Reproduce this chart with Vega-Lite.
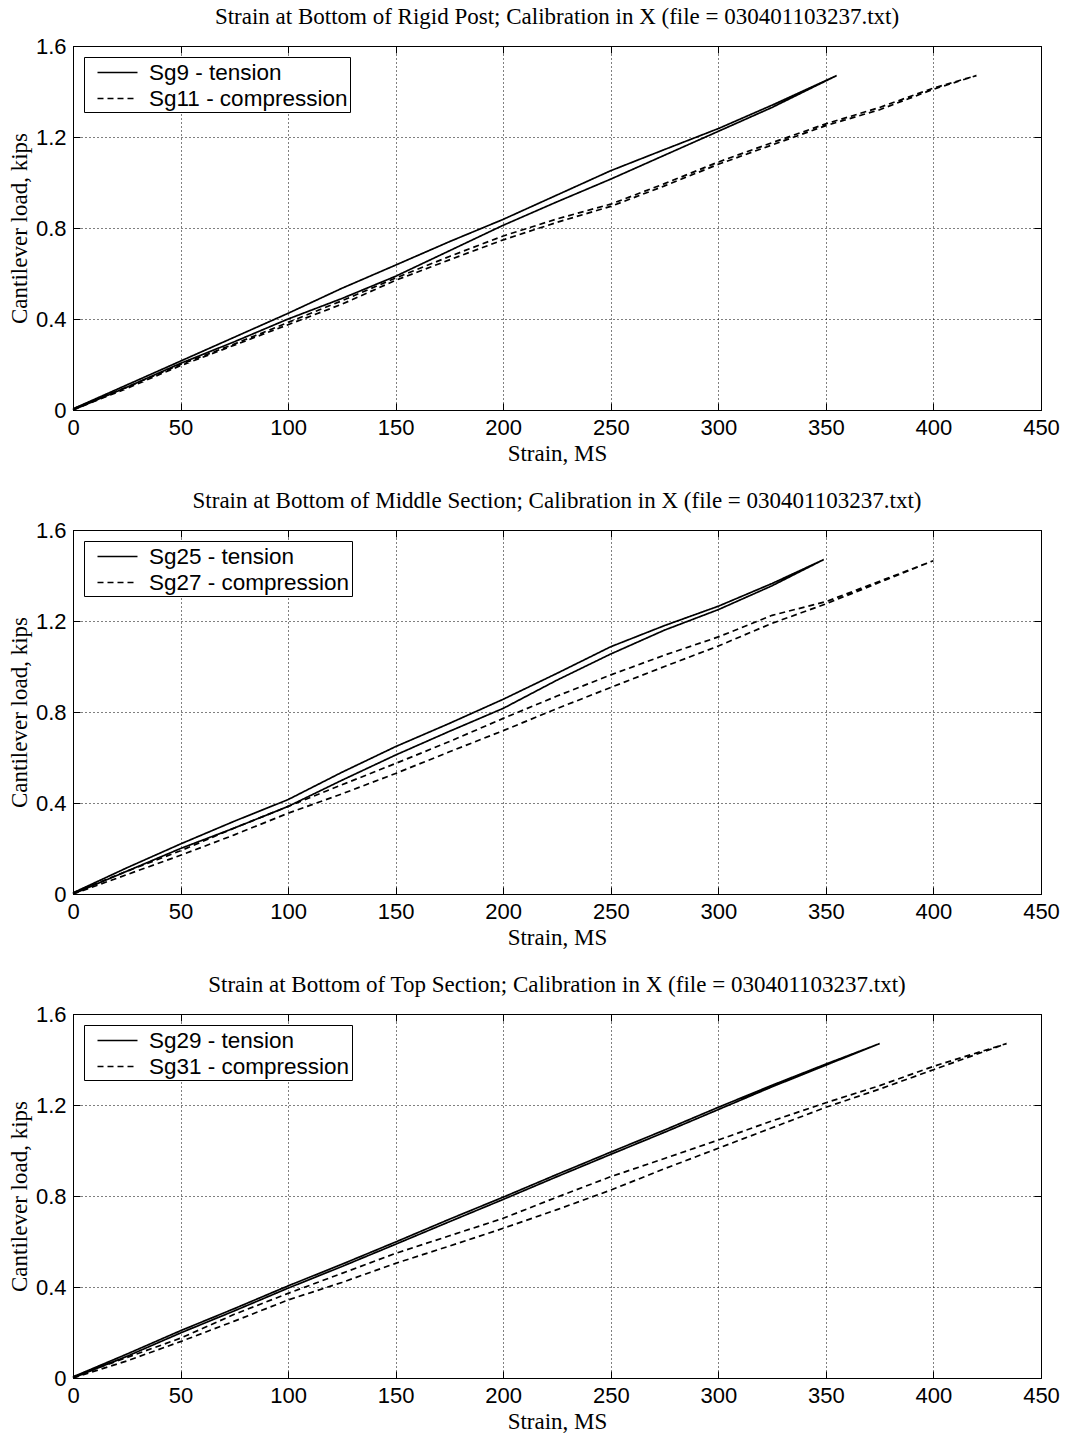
{
"$schema": "https://vega.github.io/schema/vega-lite/v6.json",
"background": "white",
"padding": {"left": 7, "top": 5, "right": 5, "bottom": 2},
"config": {
 "view": {"stroke": "black", "strokeWidth": 1},
 "axis": {"labelFont": "Liberation Sans", "labelFontSize": 22, "labelColor": "black", "labelFlush": false, "titleFont": "Liberation Serif", "titleFontSize": 23, "titleFontWeight": "normal", "titleColor": "black", "domainColor": "black", "tickColor": "black", "tickSize": -7, "labelPadding": 14, "titlePadding": 4, "gridColor": "black", "gridDash": [1, 3], "gridOpacity": 1, "gridWidth": 1},
 "legend": {"labelFont": "Liberation Sans", "labelFontSize": 22.5, "labelColor": "black", "labelLimit": 500, "strokeColor": "black", "fillColor": "white", "padding": 2, "rowPadding": 1, "symbolOffset": 18, "symbolStrokeColor": "black", "symbolStrokeWidth": 1.5, "symbolSize": 625, "symbolType": "M-1.6,0H1.6", "labelOffset": 18, "orient": "top-left", "offset": 11, "title": null},
 "title": {"font": "Liberation Serif", "fontSize": 23, "fontWeight": "normal", "color": "black", "anchor": "middle", "frame": "group", "offset": 6}
},
"datasets": {"d": [
{"p":1,"s":"Sg9 - tension","i":0,"x":0,"y":0},
{"p":1,"s":"Sg9 - tension","i":1,"x":25,"y":0.1},
{"p":1,"s":"Sg9 - tension","i":2,"x":50,"y":0.205},
{"p":1,"s":"Sg9 - tension","i":3,"x":75,"y":0.3},
{"p":1,"s":"Sg9 - tension","i":4,"x":100,"y":0.4},
{"p":1,"s":"Sg9 - tension","i":5,"x":125,"y":0.49},
{"p":1,"s":"Sg9 - tension","i":6,"x":150,"y":0.588},
{"p":1,"s":"Sg9 - tension","i":7,"x":175,"y":0.7},
{"p":1,"s":"Sg9 - tension","i":8,"x":200,"y":0.812},
{"p":1,"s":"Sg9 - tension","i":9,"x":225,"y":0.915},
{"p":1,"s":"Sg9 - tension","i":10,"x":250,"y":1.015},
{"p":1,"s":"Sg9 - tension","i":11,"x":275,"y":1.12},
{"p":1,"s":"Sg9 - tension","i":12,"x":300,"y":1.225},
{"p":1,"s":"Sg9 - tension","i":13,"x":325,"y":1.33},
{"p":1,"s":"Sg9 - tension","i":14,"x":355,"y":1.47},
{"p":1,"s":"Sg9 - tension","i":15,"x":325,"y":1.34},
{"p":1,"s":"Sg9 - tension","i":16,"x":300,"y":1.237},
{"p":1,"s":"Sg9 - tension","i":17,"x":275,"y":1.145},
{"p":1,"s":"Sg9 - tension","i":18,"x":250,"y":1.052},
{"p":1,"s":"Sg9 - tension","i":19,"x":225,"y":0.945},
{"p":1,"s":"Sg9 - tension","i":20,"x":200,"y":0.838},
{"p":1,"s":"Sg9 - tension","i":21,"x":175,"y":0.74},
{"p":1,"s":"Sg9 - tension","i":22,"x":150,"y":0.637},
{"p":1,"s":"Sg9 - tension","i":23,"x":125,"y":0.535},
{"p":1,"s":"Sg9 - tension","i":24,"x":100,"y":0.425},
{"p":1,"s":"Sg9 - tension","i":25,"x":75,"y":0.32},
{"p":1,"s":"Sg9 - tension","i":26,"x":50,"y":0.215},
{"p":1,"s":"Sg9 - tension","i":27,"x":25,"y":0.11},
{"p":1,"s":"Sg9 - tension","i":28,"x":0,"y":0.005},
{"p":1,"s":"Sg11 - compression","i":0,"x":0,"y":0},
{"p":1,"s":"Sg11 - compression","i":1,"x":25,"y":0.095},
{"p":1,"s":"Sg11 - compression","i":2,"x":50,"y":0.195},
{"p":1,"s":"Sg11 - compression","i":3,"x":75,"y":0.285},
{"p":1,"s":"Sg11 - compression","i":4,"x":100,"y":0.375},
{"p":1,"s":"Sg11 - compression","i":5,"x":125,"y":0.465},
{"p":1,"s":"Sg11 - compression","i":6,"x":150,"y":0.57},
{"p":1,"s":"Sg11 - compression","i":7,"x":175,"y":0.66},
{"p":1,"s":"Sg11 - compression","i":8,"x":200,"y":0.748},
{"p":1,"s":"Sg11 - compression","i":9,"x":225,"y":0.825},
{"p":1,"s":"Sg11 - compression","i":10,"x":250,"y":0.895},
{"p":1,"s":"Sg11 - compression","i":11,"x":275,"y":0.985},
{"p":1,"s":"Sg11 - compression","i":12,"x":300,"y":1.08},
{"p":1,"s":"Sg11 - compression","i":13,"x":325,"y":1.165},
{"p":1,"s":"Sg11 - compression","i":14,"x":350,"y":1.25},
{"p":1,"s":"Sg11 - compression","i":15,"x":375,"y":1.32},
{"p":1,"s":"Sg11 - compression","i":16,"x":400,"y":1.41},
{"p":1,"s":"Sg11 - compression","i":17,"x":420,"y":1.47},
{"p":1,"s":"Sg11 - compression","i":18,"x":400,"y":1.415},
{"p":1,"s":"Sg11 - compression","i":19,"x":375,"y":1.33},
{"p":1,"s":"Sg11 - compression","i":20,"x":350,"y":1.258},
{"p":1,"s":"Sg11 - compression","i":21,"x":325,"y":1.175},
{"p":1,"s":"Sg11 - compression","i":22,"x":300,"y":1.09},
{"p":1,"s":"Sg11 - compression","i":23,"x":275,"y":0.995},
{"p":1,"s":"Sg11 - compression","i":24,"x":250,"y":0.905},
{"p":1,"s":"Sg11 - compression","i":25,"x":225,"y":0.84},
{"p":1,"s":"Sg11 - compression","i":26,"x":200,"y":0.765},
{"p":1,"s":"Sg11 - compression","i":27,"x":175,"y":0.675},
{"p":1,"s":"Sg11 - compression","i":28,"x":150,"y":0.58},
{"p":1,"s":"Sg11 - compression","i":29,"x":125,"y":0.48},
{"p":1,"s":"Sg11 - compression","i":30,"x":100,"y":0.385},
{"p":1,"s":"Sg11 - compression","i":31,"x":75,"y":0.29},
{"p":1,"s":"Sg11 - compression","i":32,"x":50,"y":0.2},
{"p":1,"s":"Sg11 - compression","i":33,"x":25,"y":0.1},
{"p":1,"s":"Sg11 - compression","i":34,"x":0,"y":0.005},
{"p":2,"s":"Sg25 - tension","i":0,"x":0,"y":0},
{"p":2,"s":"Sg25 - tension","i":1,"x":25,"y":0.1},
{"p":2,"s":"Sg25 - tension","i":2,"x":50,"y":0.2},
{"p":2,"s":"Sg25 - tension","i":3,"x":75,"y":0.29},
{"p":2,"s":"Sg25 - tension","i":4,"x":100,"y":0.385},
{"p":2,"s":"Sg25 - tension","i":5,"x":125,"y":0.5},
{"p":2,"s":"Sg25 - tension","i":6,"x":150,"y":0.611},
{"p":2,"s":"Sg25 - tension","i":7,"x":175,"y":0.715},
{"p":2,"s":"Sg25 - tension","i":8,"x":200,"y":0.816},
{"p":2,"s":"Sg25 - tension","i":9,"x":225,"y":0.94},
{"p":2,"s":"Sg25 - tension","i":10,"x":250,"y":1.055},
{"p":2,"s":"Sg25 - tension","i":11,"x":275,"y":1.16},
{"p":2,"s":"Sg25 - tension","i":12,"x":300,"y":1.25},
{"p":2,"s":"Sg25 - tension","i":13,"x":325,"y":1.355},
{"p":2,"s":"Sg25 - tension","i":14,"x":349,"y":1.47},
{"p":2,"s":"Sg25 - tension","i":15,"x":325,"y":1.365},
{"p":2,"s":"Sg25 - tension","i":16,"x":300,"y":1.265},
{"p":2,"s":"Sg25 - tension","i":17,"x":275,"y":1.18},
{"p":2,"s":"Sg25 - tension","i":18,"x":250,"y":1.087},
{"p":2,"s":"Sg25 - tension","i":19,"x":225,"y":0.97},
{"p":2,"s":"Sg25 - tension","i":20,"x":200,"y":0.856},
{"p":2,"s":"Sg25 - tension","i":21,"x":175,"y":0.75},
{"p":2,"s":"Sg25 - tension","i":22,"x":150,"y":0.648},
{"p":2,"s":"Sg25 - tension","i":23,"x":125,"y":0.535},
{"p":2,"s":"Sg25 - tension","i":24,"x":100,"y":0.415},
{"p":2,"s":"Sg25 - tension","i":25,"x":75,"y":0.32},
{"p":2,"s":"Sg25 - tension","i":26,"x":50,"y":0.22},
{"p":2,"s":"Sg25 - tension","i":27,"x":25,"y":0.115},
{"p":2,"s":"Sg25 - tension","i":28,"x":0,"y":0.005},
{"p":2,"s":"Sg27 - compression","i":0,"x":0,"y":0},
{"p":2,"s":"Sg27 - compression","i":1,"x":25,"y":0.085},
{"p":2,"s":"Sg27 - compression","i":2,"x":50,"y":0.17},
{"p":2,"s":"Sg27 - compression","i":3,"x":75,"y":0.26},
{"p":2,"s":"Sg27 - compression","i":4,"x":100,"y":0.355},
{"p":2,"s":"Sg27 - compression","i":5,"x":125,"y":0.44},
{"p":2,"s":"Sg27 - compression","i":6,"x":150,"y":0.53},
{"p":2,"s":"Sg27 - compression","i":7,"x":175,"y":0.625},
{"p":2,"s":"Sg27 - compression","i":8,"x":200,"y":0.718},
{"p":2,"s":"Sg27 - compression","i":9,"x":225,"y":0.815},
{"p":2,"s":"Sg27 - compression","i":10,"x":250,"y":0.908},
{"p":2,"s":"Sg27 - compression","i":11,"x":275,"y":1.0},
{"p":2,"s":"Sg27 - compression","i":12,"x":300,"y":1.09},
{"p":2,"s":"Sg27 - compression","i":13,"x":325,"y":1.19},
{"p":2,"s":"Sg27 - compression","i":14,"x":350,"y":1.275},
{"p":2,"s":"Sg27 - compression","i":15,"x":375,"y":1.37},
{"p":2,"s":"Sg27 - compression","i":16,"x":400,"y":1.465},
{"p":2,"s":"Sg27 - compression","i":17,"x":375,"y":1.375},
{"p":2,"s":"Sg27 - compression","i":18,"x":350,"y":1.285},
{"p":2,"s":"Sg27 - compression","i":19,"x":325,"y":1.225},
{"p":2,"s":"Sg27 - compression","i":20,"x":300,"y":1.13},
{"p":2,"s":"Sg27 - compression","i":21,"x":275,"y":1.05},
{"p":2,"s":"Sg27 - compression","i":22,"x":250,"y":0.963},
{"p":2,"s":"Sg27 - compression","i":23,"x":225,"y":0.87},
{"p":2,"s":"Sg27 - compression","i":24,"x":200,"y":0.772},
{"p":2,"s":"Sg27 - compression","i":25,"x":175,"y":0.67},
{"p":2,"s":"Sg27 - compression","i":26,"x":150,"y":0.574},
{"p":2,"s":"Sg27 - compression","i":27,"x":125,"y":0.48},
{"p":2,"s":"Sg27 - compression","i":28,"x":100,"y":0.385},
{"p":2,"s":"Sg27 - compression","i":29,"x":75,"y":0.29},
{"p":2,"s":"Sg27 - compression","i":30,"x":50,"y":0.19},
{"p":2,"s":"Sg27 - compression","i":31,"x":25,"y":0.1},
{"p":2,"s":"Sg27 - compression","i":32,"x":0,"y":0.005},
{"p":3,"s":"Sg29 - tension","i":0,"x":0,"y":0},
{"p":3,"s":"Sg29 - tension","i":1,"x":25,"y":0.095},
{"p":3,"s":"Sg29 - tension","i":2,"x":50,"y":0.198},
{"p":3,"s":"Sg29 - tension","i":3,"x":75,"y":0.295},
{"p":3,"s":"Sg29 - tension","i":4,"x":100,"y":0.395},
{"p":3,"s":"Sg29 - tension","i":5,"x":125,"y":0.49},
{"p":3,"s":"Sg29 - tension","i":6,"x":150,"y":0.588},
{"p":3,"s":"Sg29 - tension","i":7,"x":175,"y":0.687},
{"p":3,"s":"Sg29 - tension","i":8,"x":200,"y":0.785},
{"p":3,"s":"Sg29 - tension","i":9,"x":225,"y":0.885},
{"p":3,"s":"Sg29 - tension","i":10,"x":250,"y":0.983},
{"p":3,"s":"Sg29 - tension","i":11,"x":275,"y":1.08},
{"p":3,"s":"Sg29 - tension","i":12,"x":300,"y":1.18},
{"p":3,"s":"Sg29 - tension","i":13,"x":325,"y":1.28},
{"p":3,"s":"Sg29 - tension","i":14,"x":350,"y":1.375},
{"p":3,"s":"Sg29 - tension","i":15,"x":375,"y":1.47},
{"p":3,"s":"Sg29 - tension","i":16,"x":350,"y":1.38},
{"p":3,"s":"Sg29 - tension","i":17,"x":325,"y":1.287},
{"p":3,"s":"Sg29 - tension","i":18,"x":300,"y":1.19},
{"p":3,"s":"Sg29 - tension","i":19,"x":275,"y":1.09},
{"p":3,"s":"Sg29 - tension","i":20,"x":250,"y":0.993},
{"p":3,"s":"Sg29 - tension","i":21,"x":225,"y":0.895},
{"p":3,"s":"Sg29 - tension","i":22,"x":200,"y":0.795},
{"p":3,"s":"Sg29 - tension","i":23,"x":175,"y":0.698},
{"p":3,"s":"Sg29 - tension","i":24,"x":150,"y":0.598},
{"p":3,"s":"Sg29 - tension","i":25,"x":125,"y":0.5},
{"p":3,"s":"Sg29 - tension","i":26,"x":100,"y":0.405},
{"p":3,"s":"Sg29 - tension","i":27,"x":75,"y":0.305},
{"p":3,"s":"Sg29 - tension","i":28,"x":50,"y":0.208},
{"p":3,"s":"Sg29 - tension","i":29,"x":25,"y":0.105},
{"p":3,"s":"Sg29 - tension","i":30,"x":0,"y":0.005},
{"p":3,"s":"Sg31 - compression","i":0,"x":0,"y":0},
{"p":3,"s":"Sg31 - compression","i":1,"x":25,"y":0.075},
{"p":3,"s":"Sg31 - compression","i":2,"x":50,"y":0.16},
{"p":3,"s":"Sg31 - compression","i":3,"x":75,"y":0.25},
{"p":3,"s":"Sg31 - compression","i":4,"x":100,"y":0.343},
{"p":3,"s":"Sg31 - compression","i":5,"x":125,"y":0.42},
{"p":3,"s":"Sg31 - compression","i":6,"x":150,"y":0.504},
{"p":3,"s":"Sg31 - compression","i":7,"x":175,"y":0.58},
{"p":3,"s":"Sg31 - compression","i":8,"x":200,"y":0.658},
{"p":3,"s":"Sg31 - compression","i":9,"x":225,"y":0.74},
{"p":3,"s":"Sg31 - compression","i":10,"x":250,"y":0.826},
{"p":3,"s":"Sg31 - compression","i":11,"x":275,"y":0.92},
{"p":3,"s":"Sg31 - compression","i":12,"x":300,"y":1.01},
{"p":3,"s":"Sg31 - compression","i":13,"x":325,"y":1.1},
{"p":3,"s":"Sg31 - compression","i":14,"x":350,"y":1.19},
{"p":3,"s":"Sg31 - compression","i":15,"x":375,"y":1.27},
{"p":3,"s":"Sg31 - compression","i":16,"x":400,"y":1.355},
{"p":3,"s":"Sg31 - compression","i":17,"x":434,"y":1.47},
{"p":3,"s":"Sg31 - compression","i":18,"x":400,"y":1.37},
{"p":3,"s":"Sg31 - compression","i":19,"x":375,"y":1.285},
{"p":3,"s":"Sg31 - compression","i":20,"x":350,"y":1.21},
{"p":3,"s":"Sg31 - compression","i":21,"x":325,"y":1.13},
{"p":3,"s":"Sg31 - compression","i":22,"x":300,"y":1.046},
{"p":3,"s":"Sg31 - compression","i":23,"x":275,"y":0.965},
{"p":3,"s":"Sg31 - compression","i":24,"x":250,"y":0.885},
{"p":3,"s":"Sg31 - compression","i":25,"x":225,"y":0.795},
{"p":3,"s":"Sg31 - compression","i":26,"x":200,"y":0.702},
{"p":3,"s":"Sg31 - compression","i":27,"x":175,"y":0.625},
{"p":3,"s":"Sg31 - compression","i":28,"x":150,"y":0.548},
{"p":3,"s":"Sg31 - compression","i":29,"x":125,"y":0.46},
{"p":3,"s":"Sg31 - compression","i":30,"x":100,"y":0.372},
{"p":3,"s":"Sg31 - compression","i":31,"x":75,"y":0.28},
{"p":3,"s":"Sg31 - compression","i":32,"x":50,"y":0.175},
{"p":3,"s":"Sg31 - compression","i":33,"x":25,"y":0.09},
{"p":3,"s":"Sg31 - compression","i":34,"x":0,"y":0.005}
]},
"spacing": 23,
"resolve": {"scale": {"strokeDash": "independent"}, "legend": {"strokeDash": "independent"}},
"vconcat": [
 {
  "title": {"text": "Strain at Bottom of Rigid Post; Calibration in X (file = 030401103237.txt)"},
  "width": 968, "height": 364,
  "data": {"name": "d"},
  "transform": [{"filter": "datum.p == 1"}],
  "layer": [
   {"mark": {"type": "line", "color": "black", "strokeWidth": 1.7},
    "encoding": {
     "x": {"field": "x", "type": "quantitative", "scale": {"domain": [0, 450], "nice": false}, "axis": {"values": [0,50,100,150,200,250,300,350,400,450], "title": "Strain, MS"}},
     "y": {"field": "y", "type": "quantitative", "scale": {"domain": [0, 1.6], "nice": false}, "axis": {"values": [0,0.4,0.8,1.2,1.6], "format": "~g", "title": "Cantilever load, kips"}},
     "strokeDash": {"field": "s", "type": "nominal", "scale": {"domain": ["Sg9 - tension", "Sg11 - compression"], "range": [[1, 0], [6, 4]]}},
     "order": {"field": "i", "type": "quantitative"}
    }},
   {"mark": {"type": "line", "opacity": 0},
    "encoding": {
     "x": {"field": "x", "type": "quantitative", "axis": {"orient": "top", "values": [0,50,100,150,200,250,300,350,400,450], "labels": false, "grid": false, "title": null, "domain": false}},
     "y": {"field": "y", "type": "quantitative", "axis": {"orient": "right", "values": [0,0.4,0.8,1.2,1.6], "labels": false, "grid": false, "title": null, "domain": false}}
    }}
  ],
  "resolve": {"axis": {"x": "independent", "y": "independent"}}
 },
 {
  "title": {"text": "Strain at Bottom of Middle Section; Calibration in X (file = 030401103237.txt)"},
  "width": 968, "height": 364,
  "data": {"name": "d"},
  "transform": [{"filter": "datum.p == 2"}],
  "layer": [
   {"mark": {"type": "line", "color": "black", "strokeWidth": 1.7},
    "encoding": {
     "x": {"field": "x", "type": "quantitative", "scale": {"domain": [0, 450], "nice": false}, "axis": {"values": [0,50,100,150,200,250,300,350,400,450], "title": "Strain, MS"}},
     "y": {"field": "y", "type": "quantitative", "scale": {"domain": [0, 1.6], "nice": false}, "axis": {"values": [0,0.4,0.8,1.2,1.6], "format": "~g", "title": "Cantilever load, kips"}},
     "strokeDash": {"field": "s", "type": "nominal", "scale": {"domain": ["Sg25 - tension", "Sg27 - compression"], "range": [[1, 0], [6, 4]]}},
     "order": {"field": "i", "type": "quantitative"}
    }},
   {"mark": {"type": "line", "opacity": 0},
    "encoding": {
     "x": {"field": "x", "type": "quantitative", "axis": {"orient": "top", "values": [0,50,100,150,200,250,300,350,400,450], "labels": false, "grid": false, "title": null, "domain": false}},
     "y": {"field": "y", "type": "quantitative", "axis": {"orient": "right", "values": [0,0.4,0.8,1.2,1.6], "labels": false, "grid": false, "title": null, "domain": false}}
    }}
  ],
  "resolve": {"axis": {"x": "independent", "y": "independent"}}
 },
 {
  "title": {"text": "Strain at Bottom of Top Section; Calibration in X (file = 030401103237.txt)"},
  "width": 968, "height": 364,
  "data": {"name": "d"},
  "transform": [{"filter": "datum.p == 3"}],
  "layer": [
   {"mark": {"type": "line", "color": "black", "strokeWidth": 1.7},
    "encoding": {
     "x": {"field": "x", "type": "quantitative", "scale": {"domain": [0, 450], "nice": false}, "axis": {"values": [0,50,100,150,200,250,300,350,400,450], "title": "Strain, MS"}},
     "y": {"field": "y", "type": "quantitative", "scale": {"domain": [0, 1.6], "nice": false}, "axis": {"values": [0,0.4,0.8,1.2,1.6], "format": "~g", "title": "Cantilever load, kips"}},
     "strokeDash": {"field": "s", "type": "nominal", "scale": {"domain": ["Sg29 - tension", "Sg31 - compression"], "range": [[1, 0], [6, 4]]}},
     "order": {"field": "i", "type": "quantitative"}
    }},
   {"mark": {"type": "line", "opacity": 0},
    "encoding": {
     "x": {"field": "x", "type": "quantitative", "axis": {"orient": "top", "values": [0,50,100,150,200,250,300,350,400,450], "labels": false, "grid": false, "title": null, "domain": false}},
     "y": {"field": "y", "type": "quantitative", "axis": {"orient": "right", "values": [0,0.4,0.8,1.2,1.6], "labels": false, "grid": false, "title": null, "domain": false}}
    }}
  ],
  "resolve": {"axis": {"x": "independent", "y": "independent"}}
 }
]
}
